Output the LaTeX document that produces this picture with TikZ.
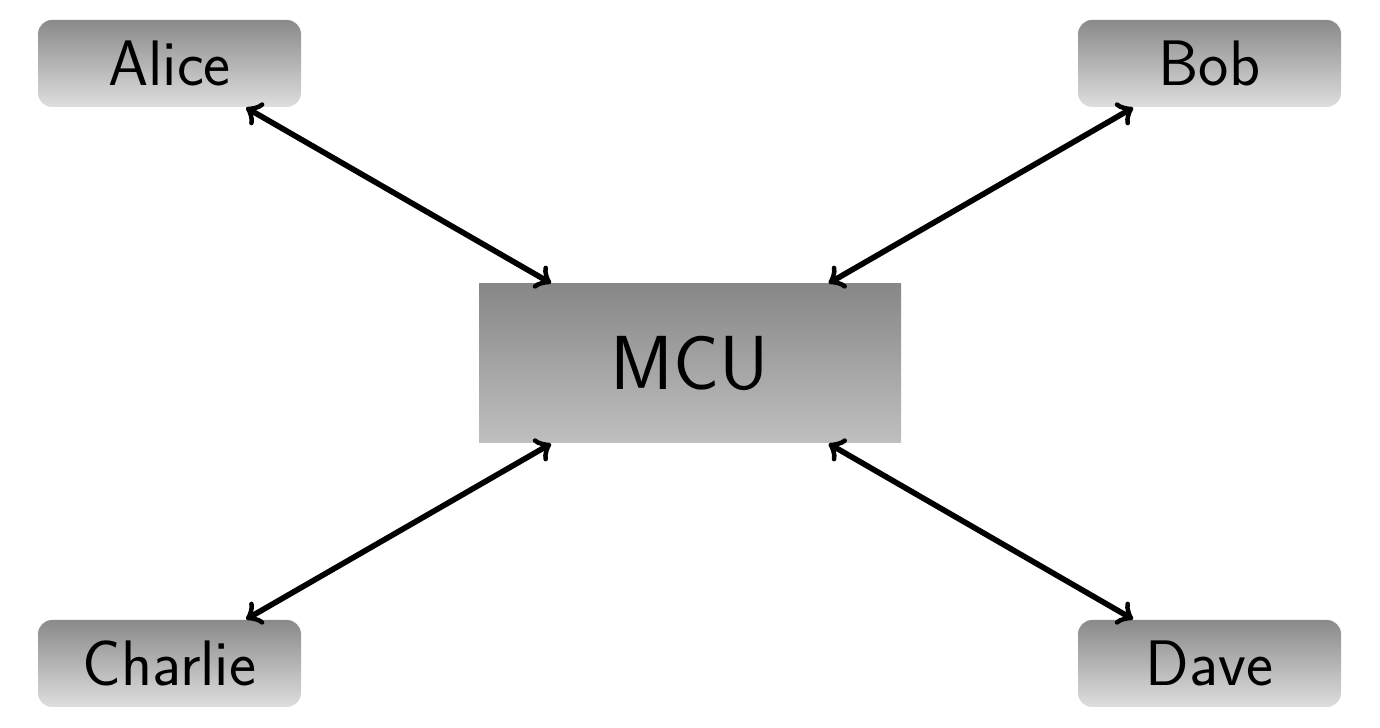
\documentclass[tikz,border=0pt]{standalone}
\usepackage{tikz}
\usetikzlibrary{arrows.meta,positioning}

\begin{document}
\begin{tikzpicture}[
  every node/.style={font=\sffamily},
  usernode/.style={rounded corners,top color=black!46,bottom color=black!13,minimum width=2.63cm,minimum height=0.87cm,align=center,font=\sffamily\fontsize{18.3}{22}\selectfont},
  mcunode/.style={top color=black!47,bottom color=black!25,minimum width=4.22cm,minimum height=1.59cm,align=center,font=\sffamily\fontsize{21.8}{26}\selectfont},
  arr/.style={<->,>=to,ultra thick}
]
\useasboundingbox (0,0) rectangle (13.8,7.28);
% MCU
\node[mcunode] (mcu) at (6.9,3.645) {MCU};
% Users
\node[usernode] (alice) at (1.695,6.645) {Alice};
\node[usernode] (bob) at (12.095,6.645) {Bob};
\node[usernode] (charlie) at (1.695,0.645) {Charlie};
\node[usernode] (dave) at (12.095,0.645) {Dave};
% Links
\draw[arr] (alice) -- (mcu);
\draw[arr] (bob) -- (mcu);
\draw[arr] (charlie) -- (mcu);
\draw[arr] (dave) -- (mcu);
\end{tikzpicture}
\end{document}
